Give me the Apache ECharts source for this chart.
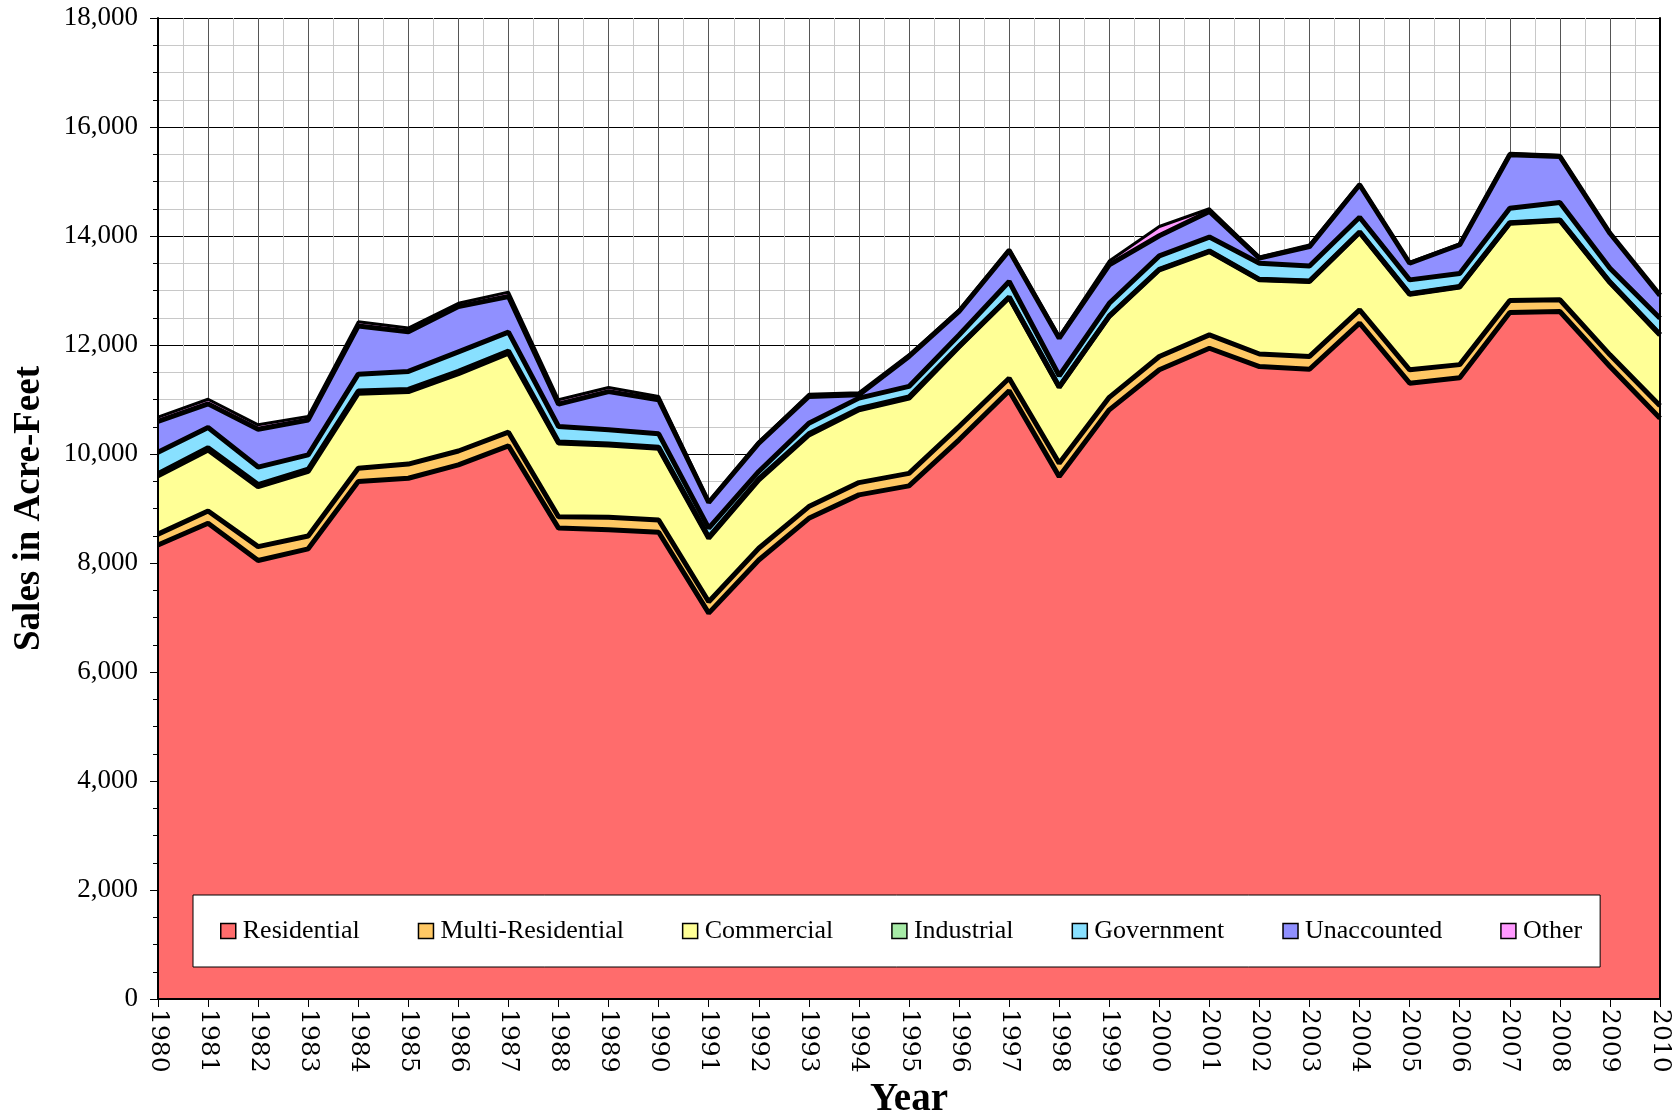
<!DOCTYPE html>
<html>
<head>
<meta charset="utf-8">
<script src="https://cdn.jsdelivr.net/npm/echarts@6/dist/echarts.min.js"></script>
<style>
  html, body { margin: 0; padding: 0; background: #fff; }
  #chart { width: 1679px; height: 1112px; }
</style>
</head>
<body>
<div id="chart"></div>
<script>
// water sales by customer class, acre-feet
var years = ['1980', '1981', '1982', '1983', '1984', '1985', '1986', '1987', '1988', '1989',
  '1990', '1991', '1992', '1993', '1994', '1995', '1996', '1997', '1998', '1999',
  '2000', '2001', '2002', '2003', '2004', '2005', '2006', '2007', '2008', '2009', '2010'];

var residential = [8330, 8730, 8045, 8260, 9495, 9555, 9800, 10150, 8640, 8610,
  8565, 7080, 8055, 8820, 9250, 9415, 10260, 11160, 9585, 10810,
  11545, 11940, 11605, 11555, 12400, 11300, 11400, 12595, 12615, 11605, 10655];
var multiResidential = [200, 225, 255, 235, 245, 260, 255, 250, 210, 230,
  225, 210, 215, 215, 225, 230, 245, 230, 245, 230,
  245, 245, 230, 235, 245, 245, 240, 220, 215, 215, 230];
var commercial = [1070, 1120, 1100, 1185, 1375, 1330, 1420, 1450, 1350, 1325,
  1315, 1165, 1255, 1315, 1335, 1380, 1465, 1480, 1395, 1485,
  1590, 1530, 1360, 1375, 1420, 1385, 1425, 1420, 1455, 1325, 1300];
var industrial = [40, 40, 40, 40, 40, 40, 40, 40, 20, 20,
  20, 20, 20, 20, 20, 20, 10, 10, 10, 10,
  10, 10, 10, 10, 10, 10, 10, 10, 10, 10, 10];
var government = [390, 370, 320, 265, 310, 330, 360, 345, 285, 260,
  245, 165, 135, 195, 195, 195, 205, 285, 200, 230,
  245, 255, 295, 275, 270, 255, 235, 265, 320, 255, 295];
var unaccounted = [570, 435, 695, 640, 885, 730, 830, 655, 410, 700,
  625, 470, 520, 490, 60, 550, 430, 570, 690, 705,
  370, 470, 95, 355, 595, 305, 530, 980, 845, 640, 420];
var other = [75, 85, 80, 65, 75, 65, 60, 80, 80, 75,
  60, 20, 20, 40, 40, 30, 30, 20, 30, 70,
  170, 50, 20, 30, 20, 15, 15, 30, 20, 10, 10];

var names = ['Residential', 'Multi-Residential', 'Commercial', 'Industrial', 'Government', 'Unaccounted', 'Other'];
var layers = [residential, multiResidential, commercial, industrial, government, unaccounted, other];
var colors = ['#FF6C6C', '#FFC864', '#FFFF96', '#A6EAA6', '#88E0FF', '#9090FF', '#FF99FF'];

var serif = 'Liberation Serif';
var wideSerif = 'DejaVu Serif';

var series = names.map(function (name, k) {
  return {
    name: name,
    type: 'line',
    stack: 'total',
    symbol: 'none',
    xAxisIndex: 0,
    yAxisIndex: 0,
    data: layers[k],
    // next layer's fill hides half of each border, so draw them wide
    lineStyle: { color: '#000', width: k == names.length - 1 ? 3 : 5 },
    itemStyle: { color: colors[k] },
    areaStyle: { color: colors[k], opacity: 1 },
    emphasis: { disabled: true }
  };
});

var borderAxis = function (pos, min, max) {
  return {
    type: 'value', min: min, max: max, position: pos, z: 10,
    axisLine: { show: true, onZero: false, lineStyle: { color: '#000', width: 2 } },
    axisTick: { show: false },
    axisLabel: { show: false },
    splitLine: { show: false }
  };
};

var chart = echarts.init(document.getElementById('chart'));
chart.setOption({
  animation: false,
  grid: { left: 158, right: 19, top: 18, bottom: 113, containLabel: false, outerBoundsMode: 'none' },
  legend: {
    left: 193,
    top: 895,
    orient: 'horizontal',
    backgroundColor: '#fff',
    borderColor: '#000',
    borderWidth: 1,
    padding: [23, 18, 23, 27],
    itemGap: 58,
    itemWidth: 15,
    itemHeight: 15,
    textStyle: { fontFamily: serif, fontSize: 26, color: '#000', padding: [0, 0, 0, 2] },
    data: names.map(function (n, k) {
      return { name: n, icon: 'rect', itemStyle: { color: colors[k], borderColor: '#000', borderWidth: 1.5 } };
    })
  },
  xAxis: [{
    // series axis, drawn invisibly
    type: 'category',
    data: years,
    boundaryGap: false,
    position: 'bottom',
    show: false
  }, {
    // axis that shows year labels and the grid
    type: 'value',
    min: 1980,
    max: 2010,
    interval: 1,
    position: 'bottom',
    name: 'Year',
    nameLocation: 'middle',
    nameGap: 80,
    nameTextStyle: { fontFamily: serif, fontSize: 39, fontWeight: 'bold', color: '#000' },
    axisLine: { show: false, onZero: false },
    axisTick: { show: true, length: 8, lineStyle: { color: '#000', width: 1 } },
    axisLabel: {
      rotate: -90,
      margin: 10,
      fontFamily: wideSerif,
      fontSize: 25,
      color: '#000',
      formatter: function (v) { return String(v); }
    },
    splitLine: { show: true, lineStyle: { color: '#555', width: 1 } },
    minorTick: { show: false, splitNumber: 2 },
    minorSplitLine: { show: true, lineStyle: { color: '#c8c8c8', width: 1 } }
  }, borderAxis('bottom', 1980, 2010)],
  yAxis: [{
    type: 'value',
    min: 0,
    max: 18000,
    interval: 2000,
    position: 'left',
    name: 'Sales in Acre-Feet',
    nameLocation: 'middle',
    nameGap: 110,
    nameTextStyle: { fontFamily: serif, fontSize: 37, fontWeight: 'bold', color: '#000' },
    axisLine: { show: false, onZero: false },
    axisTick: { show: true, length: 8, lineStyle: { color: '#000', width: 1 } },
    minorTick: { show: true, splitNumber: 4, length: 5, lineStyle: { color: '#000', width: 1 } },
    axisLabel: {
      margin: 20,
      fontFamily: serif,
      fontSize: 27,
      color: '#000',
      formatter: function (v) { return v.toLocaleString('en-US'); }
    },
    splitLine: { show: true, lineStyle: { color: '#000', width: 1 } },
    minorSplitLine: { show: true, lineStyle: { color: '#c8c8c8', width: 1 } }
  }, borderAxis('left', 0, 18000), borderAxis('right', 0, 18000)],
  series: series
});
</script>
</body>
</html>
